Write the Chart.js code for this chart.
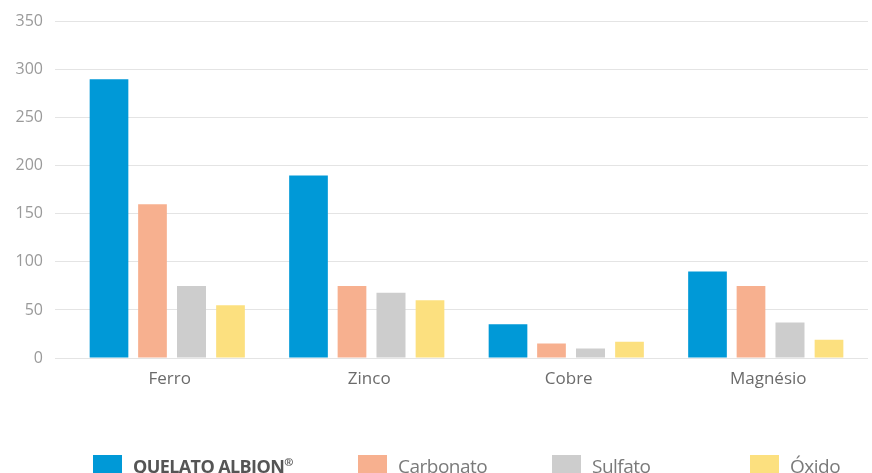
<!DOCTYPE html>
<html>
<head>
<meta charset="utf-8">
<script src="https://cdn.jsdelivr.net/npm/chart.js@4"></script>
<style>
  html, body { margin: 0; padding: 0; background: #fff; }
  .wrap { position: relative; width: 872px; height: 473px; overflow: hidden; }
  .legend { position: absolute; left: 0; top: 455px; width: 872px; height: 20px; font-family: "Open Sans", sans-serif; font-size: 19px; letter-spacing: -0.5px; color: #7a7a7a; }
  .legend__item { position: absolute; top: 0; white-space: nowrap; }
  .legend__box { display: inline-block; width: 29px; height: 20px; vertical-align: top; margin-right: 11px; }
  .legend__text { display: inline-block; line-height: 20px; vertical-align: top; margin-top: 1px; }
  .legend__text sup { font-size: 11px; line-height: 0; vertical-align: 7px; }
</style>
</head>
<body>
<div class="wrap">
  <canvas id="chart" width="872" height="473"></canvas>
  <div class="legend"></div>
</div>
<script>
const categories = ["Ferro", "Zinco", "Cobre", "Magnésio"];
const seriesNames = ["QUELATO ALBION®", "Carbonato", "Sulfato", "Óxido"];
const quelato = [290, 190, 35, 90];
const carbonato = [160, 75, 15, 75];
const sulfato = [75, 68, 10, 37];
const oxido = [55, 60, 17, 19];
const yTicks = [0, 50, 100, 150, 200, 250, 300, 350];

const colors = ["#0099d7", "#f7b08f", "#cdcdcd", "#fce07f"];
// bars are not evenly spaced in the original, so each set gets its own slot
const catPct = [0.812, 0.692, 0.872, 0.812];
const barPct = [0.955, 0.832, 0.667, 0.709];
const legendLeft = [93, 358, 552, 750];

const seriesData = [quelato, carbonato, sulfato, oxido];

const ctx = document.getElementById("chart").getContext("2d");
const chart = new Chart(ctx, {
  type: "bar",
  data: {
    labels: categories,
    datasets: seriesData.map((values, i) => ({
      label: seriesNames[i],
      data: values,
      backgroundColor: colors[i],
      borderWidth: 0,
      categoryPercentage: catPct[i],
      barPercentage: barPct[i],
    })),
  },
  options: {
    responsive: false,
    animation: false,
    layout: { padding: { top: 19, right: 4, bottom: 75, left: 0 } },
    plugins: { legend: { display: false }, tooltip: { enabled: false } },
    scales: {
      x: {
        grid: { display: false },
        border: { display: false },
        ticks: { color: "#6b6b6b", padding: 3, font: { family: "Open Sans", size: 17 } },
        afterFit: (scale) => { scale.height = 40; },
      },
      y: {
        min: 0,
        max: 350,
        afterBuildTicks: (scale) => { scale.ticks = yTicks.map((v) => ({ value: v })); },
        grid: { color: "#e4e4e4", lineWidth: 1, tickLength: 15 },
        border: { display: false },
        ticks: { color: "#9a9a9a", padding: 12, font: { family: "Open Sans", size: 16 } },
        afterFit: (scale) => { scale.width = 70; },
      },
    },
  },
});

// legend below the chart, first entry in bold like the original
const legend = document.querySelector(".legend");
seriesNames.forEach((name, i) => {
  const item = document.createElement("div");
  item.className = "legend__item";
  item.style.left = legendLeft[i] + "px";
  const style = i === 0 ? "font-weight:700;color:#555;font-size:18px;letter-spacing:-0.6px;" : "";
  const text = name.replace("®", "<sup>®</sup>");
  item.innerHTML = `<span class="legend__box" style="background:${colors[i]}"></span><span class="legend__text" style="${style}">${text}</span>`;
  legend.appendChild(item);
});
</script>
</body>
</html>
